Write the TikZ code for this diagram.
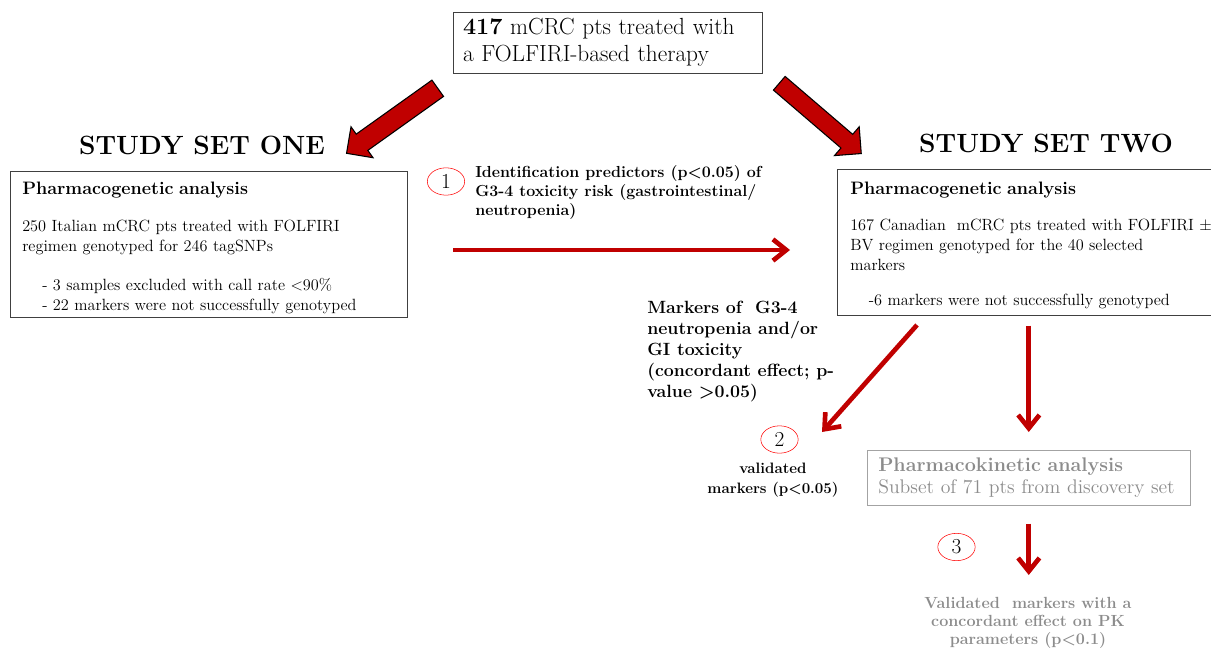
\documentclass[tikz,border=0pt]{standalone}
\usepackage{xcolor}
\usepackage{tikz}
\usetikzlibrary{positioning, arrows.meta, shapes}

\definecolor{darkred}{HTML}{C00000}
\definecolor{boxgray}{HTML}{404040}
\definecolor{pkgray}{HTML}{8C8C8C}

\begin{document}
\begin{tikzpicture}[x=0.75pt, y=-0.75pt,
        box/.style={draw=boxgray, thin, inner ysep=4pt, align=left, anchor=north west},
        numcirc/.style={ellipse, draw=red, minimum width=28pt, minimum height=20.5pt, inner sep=0pt, font=\fontsize{16}{16}\selectfont},
        lbl/.style={inner sep=0pt, font=\fontsize{12}{14.25}\selectfont\bfseries},
        redarrow/.style={darkred, line width=3.5pt, -{Straight Barb[length=10pt, width=16pt]}},
        bigarrow/.style={fill=darkred, draw=black, thick, line join=miter}]
        \useasboundingbox (0,0) rectangle (1211,649);

        % Starting cohort
        \node[box, anchor=center, inner xsep=7.5pt, text width=216.75pt, minimum height=45.75pt,
            font=\fontsize{17.5}{20}\selectfont] (top) at (607.5,42.5)
            {\textbf{417} mCRC pts treated with\\ a FOLFIRI-based therapy};

        % Headings of the two sets
        \node[font=\fontsize{19.8}{20}\selectfont\bfseries] (one) at (202,145) {STUDY SET ONE};
        \node[font=\fontsize{19.8}{20}\selectfont\bfseries] (two) at (1046,143) {STUDY SET TWO};

        % Block arrows from the cohort to the sets
        \coordinate (oneTail) at ([shift={(-15,15)}]top.south west);
        \coordinate (twoTail) at ([shift={(17,10)}]top.south east);
        \begin{scope}[shift={(oneTail)}, rotate=215.5]
            \filldraw[bigarrow] (0,10) -- (93,10) -- (93,19) -- (112,0) -- (93,-19) -- (93,-10) -- (0,-10) -- cycle;
        \end{scope}
        \begin{scope}[shift={(twoTail)}, rotate=-40.6]
            \filldraw[bigarrow] (0,9) -- (89,9) -- (89,19) -- (108,0) -- (89,-19) -- (89,-9) -- (0,-9) -- cycle;
        \end{scope}

        % Set one box
        \node[box, inner xsep=9pt, inner ysep=1pt, text width=279.75pt, minimum height=109.5pt,
            font=\fontsize{12.2}{15}\selectfont] (lbox) at (10,171)
            {{\fontsize{13.5}{16}\selectfont\bfseries\rule{0pt}{15pt}Pharmacogenetic analysis}\\[12.75pt]
             250 Italian mCRC pts treated with FOLFIRI\\
             regimen genotyped for 246 tagSNPs\\[14.25pt]
             \hspace*{15pt}- 3 samples excluded with call rate <90\%\\
             \hspace*{15pt}- 22 markers were not successfully genotyped};

        % Set two box
        \node[box, inner xsep=9.75pt, text width=280.5pt, minimum height=109.5pt,
            font=\fontsize{12.2}{15}\selectfont] (rbox) at (837,169)
            {{\fontsize{13.5}{16}\selectfont\bfseries\rule{0pt}{14pt}Pharmacogenetic analysis}\\[12pt]
             167 Canadian \ mCRC pts treated with FOLFIRI $\pm$\\
             BV regimen genotyped for the 40 selected\\
             markers\\[11pt]
             \hspace*{14pt}-6 markers were not successfully genotyped};

        % Step 1
        \node[numcirc] (c1) at (446,181.5) {1};
        \node[lbl, anchor=north west, align=left] (ident) at (475,165)
            {Identification predictors (p<0.05) of\\ G3-4 toxicity risk (gastrointestinal/\\ neutropenia)};
        \coordinate (hStart) at (453,250);
        \coordinate (hEnd) at (790,250);
        \draw[redarrow] (hStart) -- (hEnd);

        % Step 2
        \node[lbl, anchor=north west, align=left, font=\fontsize{13.3}{15.75}\selectfont\bfseries] (mark) at (647,301)
            {Markers of \ G3-4\\ neutropenia and/or\\ GI toxicity\\ (concordant effect; p-\\ value >0.05)};
        \coordinate (dStart) at (917,325);
        \coordinate (dEnd) at (822,432);
        \draw[redarrow] (dStart) -- (dEnd);
        \node[numcirc] (c2) at (779.5,439.5) {2};
        \node[lbl, align=center, font=\fontsize{11.3}{15}\selectfont\bfseries] (valid) at (773,480)
            {validated\\ markers (p<0.05)};

        % Pharmacokinetic part
        \node[box, draw=pkgray!80, text=pkgray, inner xsep=8.25pt, text width=225.75pt, minimum height=41.25pt,
            font=\fontsize{14.8}{16.5}\selectfont] (pk) at (867,450)
            {\textbf{Pharmacokinetic analysis}\\ Subset of 71 pts from discovery set};
        \draw[redarrow, shorten <=7.5pt, shorten >=13.5pt] (pk.north |- rbox.south) -- (pk.north);

        % Step 3
        \node[numcirc] (c3) at (956.5,547) {3};
        \node[lbl, align=center, text=pkgray, font=\fontsize{12.1}{13.5}\selectfont\bfseries] (pkres) at (1028,623)
            {Validated \ markers with a\\ concordant effect on PK\\ parameters (p<0.1)};
        \coordinate (vEnd) at (pk.south |- 0,575);
        \draw[redarrow, shorten <=13.5pt] (pk.south) -- (vEnd);
    \end{tikzpicture}
\end{document}
